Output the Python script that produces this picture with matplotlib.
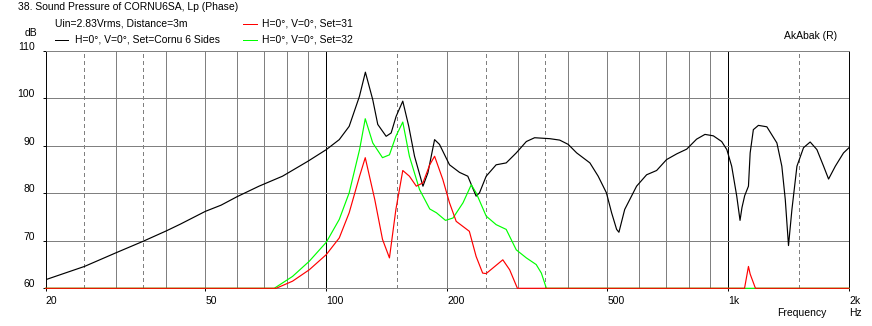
import numpy as np
import matplotlib
matplotlib.use('Agg')
import matplotlib.pyplot as plt
from matplotlib.lines import Line2D
from matplotlib.transforms import ScaledTranslation

plt.rcParams['font.family'] = ['Liberation Sans', 'DejaVu Sans']
plt.rcParams['font.size'] = 7.5

# Set = Cornu 6 Sides
black_f = [20, 25, 30, 35, 40, 43.3, 50, 54.7, 60, 68, 77.8, 89.8, 100, 107.7, 114,
           120.9, 125.1, 130.5, 134.3, 140.9, 145, 149.2, 155, 160.4, 165.8, 174,
           179, 186, 191.3, 202.6, 214.6, 225, 236, 240.6, 250, 264.7, 280.4, 297,
           314.7, 330, 360, 381, 400, 420, 453, 475, 498, 513, 528, 535, 553, 592,
           627, 664, 703, 745, 789, 835, 876, 919, 964, 993, 1021, 1051, 1071, 1083,
           1100, 1124, 1135, 1156, 1190, 1249, 1323, 1361, 1388, 1414, 1442, 1484,
           1541, 1601, 1664, 1729, 1779, 1849, 1938, 2000]
black_db = [61.8, 64.6, 67.5, 69.9, 72.1, 73.5, 76.2, 77.5, 79.3, 81.5, 83.6, 86.7,
            89.2, 91.3, 94.1, 100.4, 105.5, 99.7, 94.5, 92.0, 92.7, 96.2, 99.4, 94.1,
            87.8, 81.5, 84.3, 91.3, 90.3, 86.0, 84.4, 83.6, 79.4, 80.1, 83.6, 86.0,
            86.4, 88.5, 90.9, 91.7, 91.5, 91.2, 90.3, 88.5, 86.4, 83.6, 80.1, 75.9,
            72.4, 71.8, 76.6, 81.5, 83.9, 84.8, 87.1, 88.3, 89.3, 91.4, 92.4, 92.1,
            90.9, 89.2, 85.7, 79.4, 74.3, 77.0, 79.5, 81.5, 88.5, 93.4, 94.3, 94.0,
            90.6, 85.7, 78.7, 69.0, 76.6, 85.7, 89.6, 90.8, 89.2, 85.7, 83.0, 85.7,
            88.5, 89.6]

# Set = 31
red_f = [20, 75, 82.4, 90.7, 100, 107.7, 114, 121, 125, 132, 138, 143.6, 149, 155,
         161, 167.5, 174, 180.9, 186, 195, 202.6, 210.5, 227, 236, 245, 250, 275,
         286, 299, 1099, 1124, 1135, 1170, 2000]
red_db = [60, 60, 61.5, 63.9, 67.1, 70.6, 75.9, 83.6, 87.5, 78.7, 70.3, 66.4, 76.6,
          84.8, 83.6, 81.5, 82.2, 86.0, 87.8, 82.9, 78.0, 74.1, 72.0, 66.7, 63.2,
          63.1, 66.0, 63.9, 60, 60, 64.6, 63.0, 60, 60]

# Set = 32
green_f = [20, 74.2, 82.4, 90.7, 100, 107.7, 114, 121, 125, 130.5, 138, 143.6, 149,
           155, 161, 170.6, 180.9, 188, 198, 206.7, 218.9, 229.5, 236, 250, 264.7,
           280.4, 297, 314.7, 333, 343, 353, 2000]
green_db = [60, 60, 62.5, 65.7, 69.7, 74.5, 80.1, 89.2, 95.7, 90.6, 87.5, 88.1, 92.0,
            95.0, 87.8, 80.8, 76.7, 75.9, 74.3, 74.8, 78.0, 81.8, 80.1, 75.2, 73.4,
            72.4, 68.1, 66.4, 65.0, 63.2, 60, 60]

x_ticks = [20, 50, 100, 200, 500, 1000, 2000]
x_labels = ['20', '50', '100', '200', '500', '1k', '2k']
y_ticks = [60, 70, 80, 90, 100, 110]

W, H = 872, 326
fig = plt.figure(figsize=(W / 100, H / 100), dpi=100)
x0, x1, y_top, y_bot = 45.5, 849, 50.8, 288.3
ax = fig.add_axes([x0 / W, 1 - y_bot / H, (x1 - x0) / W, (y_bot - y_top) / H])

ax.set_xscale('log')
ax.set_xlim(20, 2000)
ax.set_ylim(60, 110)

grey = '#808080'
lw = 0.7  # one pixel at 100 dpi
aa = dict(lw=lw, antialiased=False)
for f in [30, 40, 50, 60, 70, 80, 90, 200, 300, 400, 500, 600, 700, 800, 900]:
    ax.axvline(f, color=grey, zorder=1, **aa)
for f in [25, 35, 150, 250, 350, 1500]:
    ax.axvline(f, color=grey, ls=(0, (4, 4)), zorder=1, **aa)
for f in [100, 1000]:
    ax.axvline(f, color='black', zorder=1, **aa)
for v in [70, 80, 90, 100]:
    ax.axhline(v, color=grey, zorder=1, **aa)

for side in ['top', 'bottom']:
    ax.spines[side].set_color(grey)
    ax.spines[side].set_linewidth(lw)
for side in ['left', 'right']:
    ax.spines[side].set_color('black')
    ax.spines[side].set_linewidth(lw)

# measured curves, drawn smooth
clw = 0.85
ax.plot(black_f, black_db, color='black', lw=clw, zorder=3)
ax.plot(green_f, green_db, color='#00ff00', lw=clw, zorder=4, clip_on=False)
ax.plot(red_f, red_db, color='#ff0000', lw=clw, zorder=5, clip_on=False)

ax.xaxis.set_minor_locator(matplotlib.ticker.NullLocator())
ax.set_xticks(x_ticks)
ax.set_xticklabels(x_labels, ha='left')
ax.tick_params(axis='x', length=2.2, width=lw, pad=3.6, color='black')
ax.set_yticks(y_ticks)
ax.set_yticklabels([str(v) for v in y_ticks])
ax.tick_params(axis='y', length=2.2, width=lw, pad=5.4, color='black')
shift = ScaledTranslation(0, 0.05, fig.dpi_scale_trans)
for lab in ax.get_yticklabels():
    lab.set_transform(lab.get_transform() + shift)


def px(x, y):
    return x / W, 1 - y / H


fig.text(*px(18, 7), '38. Sound Pressure of CORNU6SA, Lp (Phase)', va='center')
fig.text(*px(55, 24), 'Uin=2.83Vrms, Distance=3m', va='center')
fig.text(*px(75, 40), 'H=0°, V=0°, Set=Cornu 6 Sides', va='center')
fig.text(*px(262, 24), 'H=0°, V=0°, Set=31', va='center')
fig.text(*px(262, 40), 'H=0°, V=0°, Set=32', va='center')
for (xa, xb, yy, c) in [(55, 68, 40, 'black'), (243, 257, 24, '#ff0000'),
                        (243, 257, 40, '#00ff00')]:
    fig.add_artist(Line2D([xa / W, xb / W], [1 - yy / H, 1 - yy / H], color=c,
                          **aa))
fig.text(*px(37, 33), 'dB', va='center', ha='right')
fig.text(*px(837, 36), 'AkAbak (R)', va='center', ha='right')
fig.text(*px(777, 313.5), 'Frequency', va='center')
fig.text(*px(849, 313.5), 'Hz', va='center')

fig.savefig('out.png', dpi=100)
